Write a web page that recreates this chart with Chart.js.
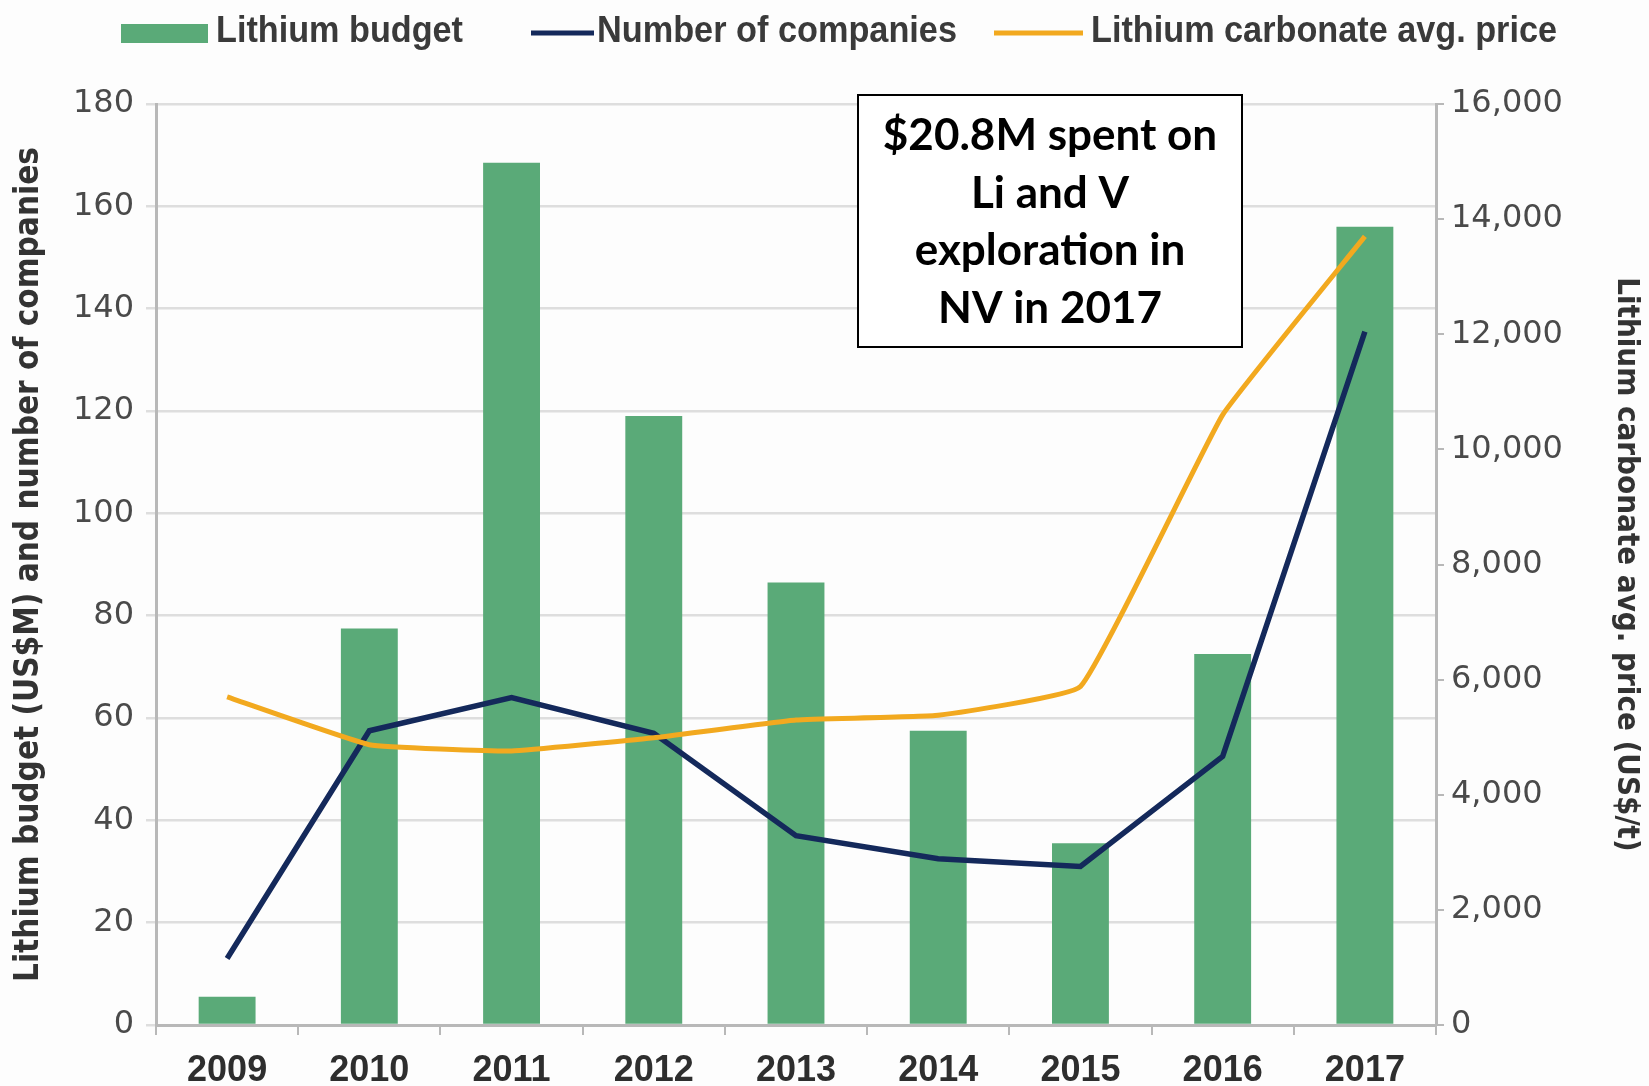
<!DOCTYPE html>
<html>
<head>
<meta charset="utf-8">
<script src="https://cdn.jsdelivr.net/npm/chart.js@4.4.1/dist/chart.umd.min.js"></script>
<style>
    body { margin: 0; background: #fdfdfd; }
    #wrap { width: 1649px; height: 1086px; position: relative; }
</style>
</head>
<body>
<div id="wrap"><canvas id="lithiumChart"></canvas></div>
<script>
// Data
const years = ['2009', '2010', '2011', '2012', '2013', '2014', '2015', '2016', '2017'];
const lithiumBudget = [5.5, 77.5, 168.5, 119, 86.5, 57.5, 35.5, 72.5, 156];
const numberOfCompanies = [13, 57.5, 64, 57, 37, 32.5, 31, 52.5, 135.5];
const carbonatePrice = [5700, 4870, 4760, 4990, 5300, 5380, 5880, 10600, 13700];
const leftTicks = [0, 20, 40, 60, 80, 100, 120, 140, 160, 180];
const rightTicks = [0, 2000, 4000, 6000, 8000, 10000, 12000, 14000, 16000];
const noteLines = ['$20.8M spent on', 'Li and V', 'exploration in', 'NV in 2017'];

const NARROW = "'DejaVu Sans Condensed', 'Liberation Sans', sans-serif";
const PLAIN = "'Liberation Sans', Arial, sans-serif";
const WIDE = "'DejaVu Sans', sans-serif";

/**
 * Legend drawn at fixed spots above the plot
 */
const topLegend = {
    id: 'topLegend',
    afterDraw(chart) {
        const ctx = chart.ctx;
        const spots = [
            { x: 121, w: 87, text: 216, tw: 247 },
            { x: 531, w: 63, text: 597, tw: 360 },
            { x: 994, w: 89, text: 1091, tw: 466 }
        ];
        ctx.save();
        ctx.font = 'bold 36px ' + PLAIN;
        ctx.textBaseline = 'middle';
        chart.data.datasets.forEach((ds, i) => {
            const s = spots[i];
            if (ds.type === 'bar') {
                ctx.fillStyle = ds.backgroundColor;
                ctx.fillRect(s.x, 24, s.w, 19);
            } else {
                ctx.strokeStyle = ds.borderColor;
                ctx.lineWidth = 5;
                ctx.beginPath();
                ctx.moveTo(s.x, 33);
                ctx.lineTo(s.x + s.w, 33);
                ctx.stroke();
            }
            ctx.fillStyle = '#3a3a3a';
            ctx.fillText(ds.label, s.text, 32, s.tw);
        });
        ctx.restore();
    }
};

/**
 * Boxed note over the chart
 */
const noteBox = {
    id: 'noteBox',
    afterDraw(chart) {
        const ctx = chart.ctx;
        ctx.save();
        ctx.fillStyle = '#ffffff';
        ctx.fillRect(858, 95, 384, 252);
        ctx.strokeStyle = '#000000';
        ctx.lineWidth = 2;
        ctx.strokeRect(858, 95, 384, 252);
        ctx.fillStyle = '#000000';
        ctx.font = 'bold 44px Lato, sans-serif';
        ctx.textAlign = 'center';
        ctx.textBaseline = 'middle';
        noteLines.forEach((line, i) => {
            ctx.fillText(line, 1050, 136 + i * 57.5);
        });
        ctx.restore();
    }
};

new Chart(document.getElementById('lithiumChart'), {
    data: {
        labels: years,
        datasets: [
            {
                type: 'bar',
                label: 'Lithium budget',
                data: lithiumBudget,
                backgroundColor: '#5aaa78',
                barPercentage: 0.4,
                categoryPercentage: 1,
                yAxisID: 'y',
                order: 2
            },
            {
                type: 'line',
                label: 'Number of companies',
                data: numberOfCompanies,
                borderColor: '#14295b',
                borderWidth: 5.5,
                pointRadius: 0,
                tension: 0,
                yAxisID: 'y',
                order: 1
            },
            {
                type: 'line',
                label: 'Lithium carbonate avg. price',
                data: carbonatePrice,
                borderColor: '#f2a91f',
                borderWidth: 5,
                pointRadius: 0,
                tension: 0.1,
                yAxisID: 'y1',
                order: 0
            }
        ]
    },
    options: {
        responsive: true,
        maintainAspectRatio: false,
        animation: false,
        layout: { padding: { top: 104, left: 0, right: 0, bottom: 0 } },
        plugins: {
            legend: { display: false },
            tooltip: { enabled: false }
        },
        scales: {
            x: {
                offset: true,
                grid: {
                    offset: true,
                    drawOnChartArea: false,
                    drawTicks: true,
                    tickLength: 10,
                    color: '#b8b8b8',
                    lineWidth: 2
                },
                border: { color: '#b8b8b8', width: 3 },
                ticks: {
                    color: '#2e2e2e',
                    padding: 14,
                    font: { family: PLAIN, size: 36, weight: 'bold' }
                },
                afterFit: scale => { scale.height = 61; }
            },
            y: {
                position: 'left',
                min: leftTicks[0],
                max: leftTicks[leftTicks.length - 1],
                afterBuildTicks: scale => { scale.ticks = leftTicks.map(v => ({ value: v })); },
                grid: { color: '#dedede', lineWidth: 2.5, tickLength: 10 },
                border: { color: '#b8b8b8', width: 3 },
                ticks: {
                    color: '#4a4a4a',
                    padding: 12,
                    font: { family: WIDE, size: 32 }
                },
                title: {
                    display: true,
                    text: 'Lithium budget (US$M) and number of companies',
                    color: '#333333',
                    padding: { top: 10, bottom: 0 },
                    font: { family: NARROW, size: 33, weight: 'bold' }
                },
                afterFit: scale => { scale.width = 156; }
            },
            y1: {
                position: 'right',
                min: rightTicks[0],
                max: rightTicks[rightTicks.length - 1],
                afterBuildTicks: scale => { scale.ticks = rightTicks.map(v => ({ value: v })); },
                grid: { drawOnChartArea: false, color: '#b8b8b8', lineWidth: 2, tickLength: 8 },
                border: { color: '#b8b8b8', width: 3 },
                ticks: {
                    color: '#4a4a4a',
                    padding: 7,
                    font: { family: WIDE, size: 32 },
                    callback: v => v.toLocaleString('en-US')
                },
                title: {
                    display: true,
                    text: 'Lithium carbonate avg. price (US$/t)',
                    color: '#333333',
                    padding: { top: 4, bottom: 0 },
                    font: { family: NARROW, size: 31, weight: 'bold' }
                },
                afterFit: scale => { scale.width = 213; }
            }
        }
    },
    plugins: [topLegend, noteBox]
});
</script>
</body>
</html>
